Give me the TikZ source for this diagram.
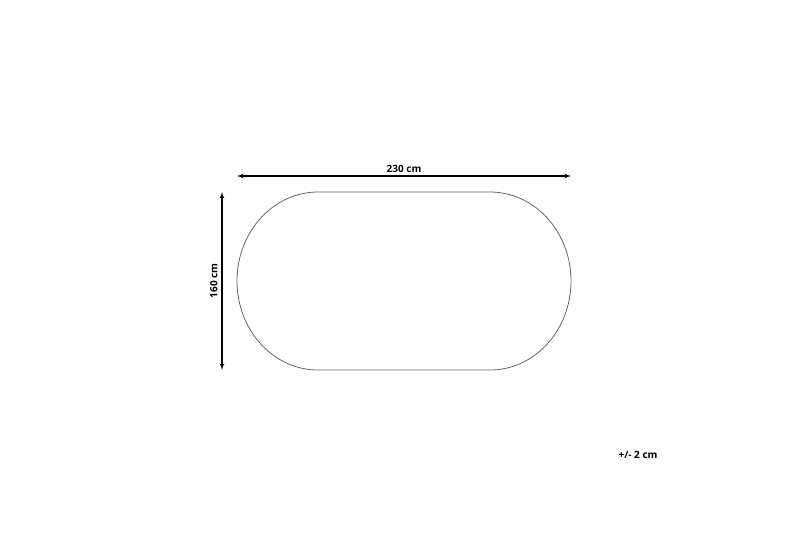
\documentclass[tikz,border=0pt]{standalone}
\usepackage{fontspec}
\setsansfont{Open Sans}
\usetikzlibrary{arrows}
\usetikzlibrary{positioning}

\begin{document}
\begin{tikzpicture}[x=1pt, y=-1pt, font=\sffamily\bfseries\fontsize{10}{12}\selectfont,
    dimline/.style={latex'-latex', line width=1.2pt, black},
    rug/.style={draw=black!60, line width=0.8pt}]

        \useasboundingbox (0,0) rectangle (800,533);

        % rug outline
        \draw[rug] (318,192) -- (490,192)
            arc[start angle=-90, end angle=90, x radius=81, y radius=89]
            -- (318,370)
            arc[start angle=90, end angle=270, x radius=81, y radius=89] -- cycle;

        \coordinate (WL) at (237,176);
        \coordinate (WR) at (571,176);
        \coordinate (HT) at (222,192);
        \coordinate (HB) at (222,370);

        \draw[dimline] (WL) -- (WR) node[midway, above, inner sep=3pt] (W) {230 cm};
        \draw[dimline] (HT) -- (HB) node[midway, above, rotate=90, inner sep=4pt] (H) {160 cm};

        \node (TOL) at (638,455) {+/- 2 cm};

    \end{tikzpicture}
\end{document}
